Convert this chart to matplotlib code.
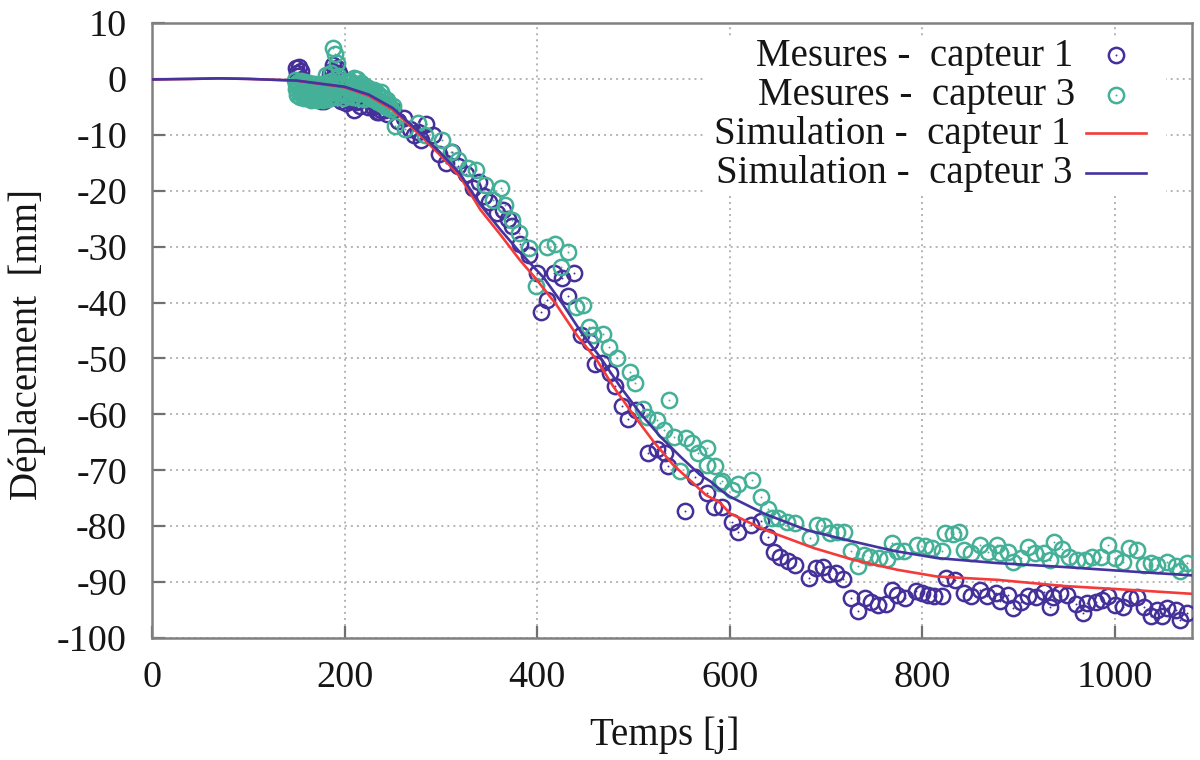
import matplotlib
matplotlib.use('Agg')
import matplotlib.pyplot as plt
from matplotlib.patches import Rectangle

plt.rcParams['font.family'] = ['Liberation Serif', 'DejaVu Serif']
plt.rcParams['axes.unicode_minus'] = False

# mesures capteur 1
t_c1 = [150, 151, 152, 153, 155, 156, 158, 160, 163, 165, 168, 170, 173, 176, 179, 182, 185, 188, 190, 192, 194, 196,
        199, 203, 207, 210, 214, 218, 222, 226, 230, 234, 238, 242, 246, 250, 255, 262, 268, 272, 276, 279, 285, 292,
        298, 305, 312, 318, 326, 333, 340, 345, 350, 358, 365, 370, 374, 382, 392, 400, 404, 410, 417, 426, 432, 438,
        446, 455, 460, 467, 476, 481, 488, 494, 503, 515, 524, 533, 536, 554, 564, 576, 584, 592, 602, 609, 622, 632,
        640, 646, 652, 660, 668, 682, 690, 697, 703, 710, 718, 726, 733, 740, 747, 754, 762, 768, 774, 782, 793, 800,
        806, 812, 820, 825, 834, 843, 850, 860, 867, 876, 881, 889, 894, 902, 910, 918, 926, 933, 936, 943, 950, 960,
        967, 971, 980, 987, 993, 1000, 1008, 1016, 1023, 1030, 1037, 1044, 1049, 1054, 1063, 1068, 1075]
d_c1 = [2.0, 1.0, 0.5, 2.2, 1.5, 0.0, -1.0, -2.0, -2.5, -3.0, -3.5, -3.0, -3.5, -4.0, -4.0, -3.5, 0.8, 2.5, -0.5, 2.0,
        1.0, -4.0, -3.5, -3.5, -4.0, -5.5, -4.0, -3.0, -3.5, -4.0, -5.0, -6.0, -5.5, -5.5, -5.0, -5.5, -7.5, -7.0, -9.0,
        -10.0, -9.5, -11.0, -8.0, -10.0, -13.5, -15.0, -13.0, -15.5, -17.0, -19.5, -18.5, -21.0, -22.0, -24.0, -23.5,
        -25.0, -26.3, -29.5, -31.5, -34.7, -41.7, -39.5, -34.7, -35.6, -38.8, -34.7, -45.8, -47.0, -51.0, -50.8, -52.6,
        -55.0, -58.5, -60.8, -59.2, -66.9, -66.2, -66.9, -69.2, -77.3, -71.2, -74.0, -76.6, -76.6, -79.2, -81.0, -79.8,
        -79.0, -82.0, -84.6, -85.5, -86.2, -87.0, -89.3, -87.5, -87.3, -88.5, -88.4, -89.5, -92.8, -95.2, -92.8, -93.6,
        -94.1, -93.9, -91.4, -92.3, -92.8, -91.6, -92.0, -92.3, -92.5, -92.4, -89.3, -89.6, -91.9, -92.5, -91.4, -92.5,
        -91.9, -93.3, -92.3, -94.6, -93.5, -92.5, -92.7, -91.8, -94.4, -92.7, -91.9, -92.3, -94.0, -95.5, -93.7, -93.5,
        -93.2, -92.5, -94.1, -94.4, -92.8, -92.7, -94.4, -96.0, -95.0, -96.0, -94.6, -95.0, -96.8, -95.5]

# mesures capteur 3
t_c3 = [150, 152, 154, 156, 158, 160, 162, 164, 166, 168, 170, 172, 174, 176, 178, 180, 181, 183, 186, 188, 190, 192,
        193, 196, 199, 202, 205, 208, 210, 213, 216, 218, 222, 225, 228, 230, 233, 236, 240, 242, 245, 252, 263, 276,
        284, 301, 310, 318, 328, 336, 346, 354, 362, 367, 374, 381, 391, 399, 410, 418, 425, 432, 440, 448, 454, 458,
        468, 475, 483, 496, 502, 510, 514, 524, 532, 537, 542, 548, 555, 561, 567, 576, 576, 585, 590, 592, 602, 609,
        623, 632, 640, 644, 650, 659, 668, 683, 691, 698, 704, 711, 719, 726, 733, 739, 746, 755, 763, 768, 774, 781,
        794, 803, 810, 820, 824, 832, 838, 843, 851, 860, 868, 877, 881, 889, 894, 902, 910, 917, 926, 933, 937, 945,
        952, 961, 969, 976, 985, 993, 1000, 1008, 1015, 1023, 1030, 1037, 1044, 1054, 1063, 1068, 1075]
d_c3 = [-1.0, -0.5, -2.5, -1.0, -3.0, -2.0, -3.2, -1.5, -3.0, -2.5, -3.3, -1.8, -3.0, -2.2, -3.2, -1.0, 0.7, -2.5, 1.0,
        5.5, 4.5, 2.8, 0.5, -1.5, -2.5, -1.5, -0.5, -2.0, 0.2, 0.0, -1.5, -2.5, -2.0, -3.0, -2.5, -2.5, -3.5, -4.0, -4.5,
        -4.3, -5.0, -8.4, -9.0, -7.9, -10.0, -11.0, -13.0, -14.5, -16.0, -16.3, -19.0, -21.6, -19.5, -22.5, -25.2,
        -27.5, -30.2, -37.1, -30.0, -29.6, -33.6, -30.9, -40.8, -40.4, -44.4, -45.8, -45.6, -47.9, -50.0, -52.5, -54.4,
        -59.0, -60.4, -61.0, -62.8, -57.4, -64.0, -70.2, -64.2, -65.1, -67.0, -66.0, -69.0, -69.2, -72.3, -72.0, -73.6,
        -72.5, -71.7, -74.8, -76.9, -78.5, -78.5, -79.2, -79.4, -82.1, -79.8, -79.9, -81.2, -81.0, -81.0, -84.4, -87.1,
        -85.1, -85.5, -85.7, -85.9, -83.0, -84.5, -84.4, -83.4, -83.5, -83.9, -84.4, -81.2, -81.4, -81.0, -84.3, -84.8,
        -83.4, -84.6, -83.4, -84.8, -84.6, -86.4, -85.7, -83.7, -84.8, -84.8, -86.0, -82.9, -84.0, -85.5, -86.0, -86.0,
        -85.5, -85.5, -83.4, -85.7, -86.4, -83.9, -84.3, -87.0, -86.6, -87.0, -86.4, -87.2, -88.1, -86.6]

# amas du debut, tres dense
t_early1 = [152, 157, 159, 161, 164, 167, 171, 175, 178, 181, 184, 187, 189, 191, 193,
            195, 198, 201, 205, 209, 212, 216, 220, 224, 228, 232, 236, 240, 244]
d_early1 = [-0.5, -2.5, -1.5, -3.0, -2.0, -3.2, -2.5, -3.5, -2.8, -2.0, -1.0, 1.5, 0.5,
            -3.0, -1.5, -2.5, -2.8, -4.3, -3.0, -2.5, -4.2, -4.8, -2.8, -5.0, -3.5, -4.5, -6.0, -4.5, -6.2]
t_early3 = [149, 150, 151, 152, 153, 154, 155, 156, 157, 158, 159, 160, 161, 162, 163, 164, 165, 166, 167, 168, 169,
            170, 171, 172, 173, 174, 175, 176, 177, 178, 179, 180, 182, 183, 184, 185, 186, 187, 189, 190, 191, 194,
            195, 197, 198, 200, 201, 203, 204, 206, 207, 209, 211, 212, 214, 215, 217, 219, 220, 221, 223, 224, 226,
            227, 229, 231, 232, 234, 235, 237, 238, 239, 241, 243, 244, 246, 248, 250]
d_early3 = [-0.2, -1.8, -2.8, -0.8, -1.5, -3.2, -0.4, -2.2, -1.0, -3.4, -0.6, -2.8, -1.4, -3.5, -0.8, -2.4, -3.7, -1.0,
            -2.0, -3.5, -0.9, -2.7, -3.8, -1.2, -2.1, -3.6, -1.0, -3.1, -1.7, -3.8, -2.2, -3.4, -1.4, -3.6, -0.5, -2.6,
            -1.2, -3.3, -0.8, -2.0, -3.2, -0.2, -2.6, -1.0, -3.4, -0.6, -2.3, -1.2, -3.0, -0.4, -2.0, -3.2, -0.9, -2.4,
            -1.3, -3.4, -0.7, -2.0, -3.6, -1.2, -2.8, -1.6, -3.4, -2.2, -3.0, -1.9, -3.8, -2.6, -4.2, -3.0, -2.4, -4.5,
            -3.4, -5.0, -3.8, -4.6, -5.4, -4.9]

# simulations
t_sim1 = [0, 40, 70, 100, 150, 200, 225, 250, 278, 299, 320, 341, 362, 382, 398, 420, 441, 462, 479, 500, 521, 541, 562,
          575, 590, 600, 637, 687, 728, 774, 815, 878, 947, 1016, 1080]
d_sim1 = [-0.1, 0.0, 0.1, 0.0, -0.3, -1.5, -3.0, -5.5, -10.0, -13.6, -17.5, -23.4, -27.9, -32.4, -35.6, -40.4, -45.8,
          -50.3, -55.0, -60.1, -64.9, -69.0, -72.3, -74.4, -75.8, -77.7, -80.7, -83.9, -86.0, -87.8, -89.0, -89.6,
          -90.7, -91.4, -92.1]
t_sim3 = [0, 40, 70, 100, 150, 200, 225, 250, 278, 299, 320, 341, 362, 382, 407, 427, 446, 466, 486, 507, 528, 549, 569,
          580, 590, 600, 635, 680, 722, 770, 815, 878, 947, 1016, 1080]
d_sim3 = [-0.1, 0.0, 0.1, 0.0, -0.3, -1.4, -2.8, -5.2, -9.6, -13.1, -17.0, -22.5, -27.0, -31.0, -35.6, -40.4, -45.4,
          -49.9, -55.0, -59.8, -64.0, -67.6, -70.8, -72.0, -73.5, -74.7, -77.7, -80.7, -82.5, -84.4, -85.7, -86.6,
          -87.3, -88.1, -88.8]

x_ticks = [0, 200, 400, 600, 800, 1000]
y_ticks = [10, 0, -10, -20, -30, -40, -50, -60, -70, -80, -90, -100]
legend_labels = ['Mesures -  capteur 1', 'Mesures -  capteur 3', 'Simulation -  capteur 1', 'Simulation -  capteur 3']

purple = '#45309a'
green = '#43b097'
red = '#f53a3a'
blue = '#4534a0'
text_color = '#151515'

fig = plt.figure(figsize=(12, 7.6), dpi=100)
ax = fig.add_axes([152 / 1200, 1 - 638 / 760, 1040 / 1200, 615 / 760])

# points : cercle + petit point central comme gnuplot
for t, d, c in [(t_c1 + t_early1, d_c1 + d_early1, purple), (t_c3 + t_early3, d_c3 + d_early3, green)]:
    ax.plot(t, d, 'o', mfc='none', mec=c, mew=1.8, ms=11, zorder=3)
    ax.plot(t, d, 'o', color=c, ms=1.4, mew=0, zorder=3)
ax.plot(t_sim1, d_sim1, color=red, lw=1.9, zorder=4)
ax.plot(t_sim3, d_sim3, color=blue, lw=1.9, zorder=5)

ax.set_xlim(0, 1080)
ax.set_ylim(-100, 10)
ax.set_xticks(x_ticks)
ax.set_yticks(y_ticks)
ax.set_yticklabels([str(v) for v in y_ticks])
ax.tick_params(direction='in', length=9, width=1.6, color='#707070', labelsize=27.5, labelcolor=text_color, pad=18)
ax.tick_params(axis='x', pad=16)
ax.grid(True, color='#b4b4b4', lw=1.4, linestyle=(0, (1, 2.1)))
ax.set_axisbelow(True)
for s in ax.spines.values():
    s.set_color('#808080')
    s.set_linewidth(1.8)

ax.set_xlabel('Temps [j]', fontsize=28, color=text_color)
ax.xaxis.set_label_coords(0.493, -0.127)
ax.set_ylabel('Déplacement  [mm]', fontsize=28, color=text_color)
ax.yaxis.set_label_coords(-0.102, 0.478)

# legende a la main, texte aligne a droite
ax.add_patch(Rectangle((0.53, 0.725), 0.445, 0.25, transform=ax.transAxes, fc='white', ec='none', zorder=2))
text_rows = [0.930, 0.867, 0.803, 0.740]
text_right = [0.8856, 0.8875, 0.8827, 0.8846]
for y, xr, lab in zip(text_rows, text_right, legend_labels):
    ax.text(xr, y, lab, transform=ax.transAxes, ha='right', va='baseline', fontsize=28, color=text_color, zorder=6)
ax.plot([0.9266], [0.948], 'o', mfc='none', mec=purple, mew=1.8, ms=11, transform=ax.transAxes, zorder=6)
ax.plot([0.9266], [0.948], 'o', color=purple, ms=1.4, mew=0, transform=ax.transAxes, zorder=6)
ax.plot([0.9266], [0.883], 'o', mfc='none', mec=green, mew=1.8, ms=11, transform=ax.transAxes, zorder=6)
ax.plot([0.9266], [0.883], 'o', color=green, ms=1.4, mew=0, transform=ax.transAxes, zorder=6)
ax.plot([0.8978, 0.956], [0.821, 0.821], color=red, lw=1.9, transform=ax.transAxes, zorder=6)
ax.plot([0.8978, 0.956], [0.756, 0.756], color=blue, lw=1.9, transform=ax.transAxes, zorder=6)

fig.savefig('out.png', dpi=100)
